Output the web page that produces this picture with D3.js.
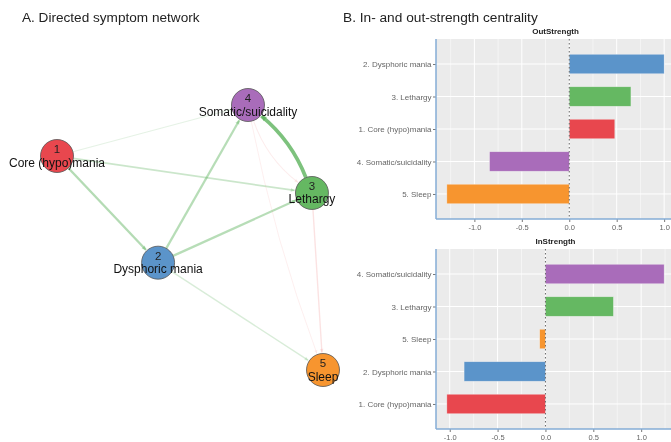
<!DOCTYPE html>
<html>
<head>
<meta charset="utf-8">
<script src="https://cdn.jsdelivr.net/npm/d3@7"></script>
<style>
  html, body { margin: 0; padding: 0; background: #fff; }
  svg { display: block; font-family: "Liberation Sans", Arial, sans-serif; filter: blur(0.35px); }
</style>
</head>
<body>
<div id="chart"></div>
<script>
// ---- Data ----
// Network nodes (layout in qgraph-like [-1, 1] space)
const nodeIds = [1, 2, 3, 4, 5];
const nodeNames = ['Core (hypo)mania', 'Dysphoric mania', 'Lethargy', 'Somatic/suicidality', 'Sleep'];
const nodeColors = ['#e8474e', '#5b94ca', '#65b862', '#a96cba', '#f7952f'];
const layoutX = [-1, -0.24, 0.917, 0.436, 1];
const layoutY = [0.615, -0.19, 0.336, 1, -1];

// Directed edges
const edgeFrom = [3, 1, 2, 2, 1, 2, 1, 3, 4, 4];
const edgeTo = [4, 2, 4, 3, 3, 5, 4, 5, 3, 5];
const edgeWeight = [0.36, 0.19, 0.18, 0.18, 0.12, 0.08, 0.04, -0.08, -0.04, -0.03];
const edgeCurve = [0.13, 0, 0, 0, 0, 0, 0, 0, 0.15, 0.04];

// Centrality (z-scores), top to bottom
const outLabels = ['2. Dysphoric mania', '3. Lethargy', '1. Core (hypo)mania', '4. Somatic/suicidality', '5. Sleep'];
const outNode = [2, 3, 1, 4, 5];
const outValues = [1.0, 0.65, 0.48, -0.84, -1.29];

const inLabels = ['4. Somatic/suicidality', '3. Lethargy', '5. Sleep', '2. Dysphoric mania', '1. Core (hypo)mania'];
const inNode = [4, 3, 5, 2, 1];
const inValues = [1.24, 0.71, -0.06, -0.85, -1.03];

const xTicks = [-1.0, -0.5, 0.0, 0.5, 1.0];

const width = 671;
const height = 442;

const svg = d3.select('#chart')
  .append('svg')
  .attr('width', width)
  .attr('height', height);

svg.append('rect').attr('width', width).attr('height', height).attr('fill', '#fff');

// ---- Panel A: network ----
svg.append('text')
  .attr('x', 22).attr('y', 22)
  .attr('font-size', 13.6)
  .attr('fill', '#222')
  .text('A. Directed symptom network');

const netG = svg.append('g');
const clip = svg.append('defs').append('clipPath').attr('id', 'netclip');
clip.append('rect').attr('x', 0).attr('y', 0).attr('width', 340).attr('height', height);
netG.attr('clip-path', 'url(#netclip)');

const nx = d3.scaleLinear().domain([-1, 1]).range([57, 323]);
const ny = d3.scaleLinear().domain([-1, 1]).range([370, 105]);
const radius = 16.5;

const nodes = nodeIds.map((id, i) => ({
  id, name: nodeNames[i], color: nodeColors[i], x: nx(layoutX[i]), y: ny(layoutY[i])
}));
const nodeById = new Map(nodes.map(n => [n.id, n]));

const maxW = d3.max(edgeWeight, w => Math.abs(w));
const edgeWidth = d3.scaleLinear().domain([0, maxW]).range([0.7, 3.8]);
const edgeAlpha = d3.scaleLinear().domain([0, maxW]).range([0.08, 0.75]);

const edgeG = netG.append('g');
edgeFrom.forEach((f, i) => {
  const s = nodeById.get(f);
  const t = nodeById.get(edgeTo[i]);
  const w = edgeWeight[i];
  const col = w > 0 ? '#52ad52' : '#ee8080';
  const sw = edgeWidth(Math.abs(w));
  const op = edgeAlpha(Math.abs(w));

  const dx = t.x - s.x, dy = t.y - s.y;
  const len = Math.hypot(dx, dy);
  const ux = dx / len, uy = dy / len;
  // control point offset perpendicular to the edge
  const cx = (s.x + t.x) / 2 - uy * edgeCurve[i] * len;
  const cy = (s.y + t.y) / 2 + ux * edgeCurve[i] * len;

  // trim ends to circle boundary
  const a0 = Math.atan2(cy - s.y, cx - s.x);
  const a1 = Math.atan2(cy - t.y, cx - t.x);
  const x0 = s.x + Math.cos(a0) * radius, y0 = s.y + Math.sin(a0) * radius;
  const x1 = t.x + Math.cos(a1) * (radius + 1), y1 = t.y + Math.sin(a1) * (radius + 1);

  const path = d3.path();
  path.moveTo(x0, y0);
  path.quadraticCurveTo(cx, cy, x1, y1);
  edgeG.append('path')
    .attr('d', path.toString())
    .attr('fill', 'none')
    .attr('stroke', col)
    .attr('stroke-opacity', op)
    .attr('stroke-width', sw);

  // small arrowhead
  const ang = Math.atan2(y1 - cy, x1 - cx);
  const al = 3 + sw * 0.5, ah = 1.4 + sw * 0.35;
  const bx = x1 - Math.cos(ang) * al, by = y1 - Math.sin(ang) * al;
  edgeG.append('path')
    .attr('d', `M${x1},${y1}L${bx - Math.sin(ang) * ah},${by + Math.cos(ang) * ah}L${bx + Math.sin(ang) * ah},${by - Math.cos(ang) * ah}Z`)
    .attr('fill', col)
    .attr('fill-opacity', op * 0.8);
});

const nodeG = netG.selectAll('g.node')
  .data(nodes)
  .join('g')
  .attr('class', 'node')
  .attr('transform', d => `translate(${d.x},${d.y})`);

nodeG.append('circle')
  .attr('r', radius)
  .attr('fill', d => d.color)
  .attr('stroke', '#555')
  .attr('stroke-width', 0.8);

nodeG.append('text')
  .attr('y', -3)
  .attr('text-anchor', 'middle')
  .attr('font-size', 11.5)
  .attr('fill', '#222')
  .text(d => d.id);

nodeG.append('text')
  .attr('y', 10.5)
  .attr('text-anchor', 'middle')
  .attr('font-size', 12)
  .attr('fill', '#111')
  .text(d => d.name);

// ---- Panel B: centrality bars ----
svg.append('text')
  .attr('x', 343).attr('y', 22)
  .attr('font-size', 13.7)
  .attr('fill', '#222')
  .text('B. In- and out-strength centrality');

function facet(top, title, labels, nodeRef, values) {
  const left = 436, right = 675, bottom = top + 180;

  const ext = d3.extent(values.concat([0]));
  const pad = (ext[1] - ext[0]) * 0.05;
  const x = d3.scaleLinear().domain([ext[0] - pad, ext[1] + pad]).range([left, right]);
  const y = d3.scalePoint().domain(labels).range([top, bottom]).padding(0.77);
  const bandH = y.step() * 0.6;

  const g = svg.append('g');

  g.append('rect')
    .attr('x', left).attr('y', top)
    .attr('width', right - left).attr('height', bottom - top)
    .attr('fill', '#ebebeb');

  // minor grid
  const minor = d3.range(-1.25, 1.5, 0.5).filter(v => x(v) > left && x(v) < right);
  g.selectAll('.minor').data(minor).join('line')
    .attr('x1', d => x(d)).attr('x2', d => x(d))
    .attr('y1', top).attr('y2', bottom)
    .attr('stroke', '#fff').attr('stroke-width', 0.5);

  // major grid
  g.selectAll('.vmajor').data(xTicks).join('line')
    .attr('x1', d => x(d)).attr('x2', d => x(d))
    .attr('y1', top).attr('y2', bottom)
    .attr('stroke', '#fff').attr('stroke-width', 1);

  g.selectAll('.hmajor').data(labels).join('line')
    .attr('x1', left).attr('x2', right)
    .attr('y1', d => y(d)).attr('y2', d => y(d))
    .attr('stroke', '#fff').attr('stroke-width', 1);

  // bars
  g.selectAll('.bar').data(values).join('rect')
    .attr('x', d => Math.min(x(0), x(d)))
    .attr('y', (d, i) => y(labels[i]) - bandH / 2)
    .attr('width', d => Math.abs(x(d) - x(0)))
    .attr('height', bandH)
    .attr('fill', (d, i) => nodeColors[nodeRef[i] - 1])
    .attr('stroke', '#f4f4f4')
    .attr('stroke-opacity', 0.6)
    .attr('stroke-width', 0.6);

  // dotted zero line
  g.append('line')
    .attr('x1', x(0)).attr('x2', x(0))
    .attr('y1', top).attr('y2', bottom)
    .attr('stroke', '#666')
    .attr('stroke-width', 1)
    .attr('stroke-dasharray', '1.5,2.5');

  // y axis
  const yAxis = g.append('g')
    .attr('transform', `translate(${left},0)`)
    .call(d3.axisLeft(y).tickSize(3).tickPadding(1.5));
  yAxis.select('.domain').remove();
  yAxis.selectAll('.tick line').attr('stroke', '#777');
  yAxis.selectAll('text').attr('font-size', 8).attr('fill', '#666')
    .attr('font-family', '"Liberation Sans", Arial, sans-serif');

  // x axis
  const xAxis = g.append('g')
    .attr('transform', `translate(0,${bottom})`)
    .call(d3.axisBottom(x).tickValues(xTicks).tickFormat(d => d.toFixed(1)).tickSize(3).tickPadding(3));
  xAxis.select('.domain').remove();
  xAxis.selectAll('.tick line').attr('stroke', '#777');
  xAxis.selectAll('text').attr('font-size', 7.5).attr('fill', '#666')
    .attr('font-family', '"Liberation Sans", Arial, sans-serif');

  // axis lines (blue)
  g.append('line')
    .attr('x1', left).attr('x2', left)
    .attr('y1', top).attr('y2', bottom)
    .attr('stroke', '#85acd6').attr('stroke-width', 1.5);
  g.append('line')
    .attr('x1', left).attr('x2', right)
    .attr('y1', bottom).attr('y2', bottom)
    .attr('stroke', '#85acd6').attr('stroke-width', 1.5);

  // strip title
  g.append('text')
    .attr('x', (left + right) / 2)
    .attr('y', top - 5)
    .attr('text-anchor', 'middle')
    .attr('font-size', 8)
    .attr('font-weight', 'bold')
    .attr('fill', '#222')
    .text(title);
}

facet(39, 'OutStrength', outLabels, outNode, outValues);
facet(249, 'InStrength', inLabels, inNode, inValues);
</script>
</body>
</html>
